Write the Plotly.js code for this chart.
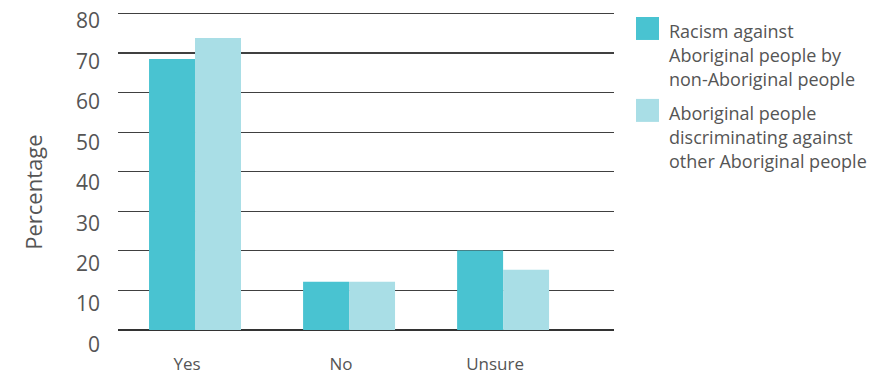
<!DOCTYPE html>
<html>
<head>
<meta charset="utf-8">
<script src="https://cdn.plot.ly/plotly-3.0.1.min.js"></script>
<style>html,body{margin:0;padding:0;background:#fff;}#chart{width:891px;height:374px;}</style>
</head>
<body>
<div id="chart"></div>
<script>
const categories = ["Yes", "No", "Unsure"];
const seriesNames = [
  "Racism against Aboriginal people by non-Aboriginal people",
  "Aboriginal people discriminating against other Aboriginal people"
];
const legendLines = [
  ["Racism against", "Aboriginal people by", "non-Aboriginal people"],
  ["Aboriginal people", "discriminating against", "other Aboriginal people"]
];
const racismByNonAboriginal = [68.5, 12.2, 20.1];
const aboriginalDiscriminating = [73.8, 12.2, 15.2];
const yTickValues = [0, 10, 20, 30, 40, 50, 60, 70, 80];
const yTickLabels = ["0", "10", "20", "30", "40", "50", "60", "70", "80"];
const yTitle = "Percentage";

const colors = ["#49C3D1", "#A9DEE6"];
const FONT = "'Open Sans', 'Noto Sans', sans-serif";
const TXT = "#555555";

// plot area geometry (pixels)
const W = 891, H = 374;
const L = 118, R = 614, T = 5, B = 330.3;
const pw = R - L, ph = B - T;
const pxToPaperX = px => (px - L) / pw;
const pxToPaperY = py => (B - py) / ph;

const traces = [
  {type: "bar", x: categories, y: racismByNonAboriginal, name: seriesNames[0],
   marker: {color: colors[0]}, showlegend: false, hoverinfo: "x+y"},
  {type: "bar", x: categories, y: aboriginalDiscriminating, name: seriesNames[1],
   marker: {color: colors[1]}, showlegend: false, hoverinfo: "x+y"}
];

const shapes = [];
const annotations = [];
const sq = [[17, 40], [99, 122]];
const baselines = [[37.3, 61.5, 85.3], [119.3, 143.3, 167.3]];
for (let i = 0; i < 2; i++) {
  shapes.push({type: "rect", xref: "paper", yref: "paper",
    x0: pxToPaperX(636), x1: pxToPaperX(659),
    y0: pxToPaperY(sq[i][1]), y1: pxToPaperY(sq[i][0]),
    fillcolor: colors[i], line: {width: 0}});
  legendLines[i].forEach((t, j) => {
    annotations.push({text: t, xref: "paper", yref: "paper",
      x: pxToPaperX(667), y: pxToPaperY(baselines[i][j] - 6),
      xanchor: "left", yanchor: "middle", showarrow: false,
      font: {family: FONT, size: 18, color: TXT}});
  });
}
annotations.push({text: yTitle, xref: "paper", yref: "paper",
  x: pxToPaperX(33), y: pxToPaperY(193), textangle: -90,
  xanchor: "center", yanchor: "middle", showarrow: false,
  font: {family: FONT, size: 22, color: TXT}});

const layout = {
  width: W, height: H,
  margin: {l: L, r: W - R, t: T, b: H - B, pad: 0},
  paper_bgcolor: "#fff", plot_bgcolor: "#fff",
  barmode: "group", bargap: 0.403, bargroupgap: 0,
  font: {family: FONT, color: TXT},
  xaxis: {type: "category", range: [-0.5, 2.72], showgrid: false, zeroline: false,
    showline: false, ticks: "", tickfont: {family: FONT, size: 17, color: TXT},
    ticklabelshift: -8, ticklabelstandoff: 22, fixedrange: true},
  yaxis: {range: [0, ph / 3.96], tickmode: "array", tickvals: yTickValues,
    showticklabels: false, showgrid: true, gridcolor: "#404040", gridwidth: 1.2,
    zeroline: true, zerolinecolor: "#333333", zerolinewidth: 1.3, ticks: "", fixedrange: true},
  yaxis2: {overlaying: "y", side: "left", range: [-0.1, -0.1 + ph / 4.05],
    tickmode: "array", tickvals: yTickValues, ticktext: yTickLabels,
    showgrid: false, zeroline: false, showline: false, ticks: "",
    tickfont: {family: FONT, size: 21, color: TXT},
    ticklabelshift: 15, ticklabelstandoff: 17, ticklabeloverflow: "allow", fixedrange: true},
  shapes: shapes,
  annotations: annotations
};

// invisible carrier so the label axis is drawn
traces.push({type: "scatter", x: [categories[0]], y: [0], yaxis: "y2", mode: "markers",
  marker: {opacity: 0}, showlegend: false, hoverinfo: "skip"});

Plotly.newPlot("chart", traces, layout, {displayModeBar: false, staticPlot: true});
</script>
</body>
</html>
